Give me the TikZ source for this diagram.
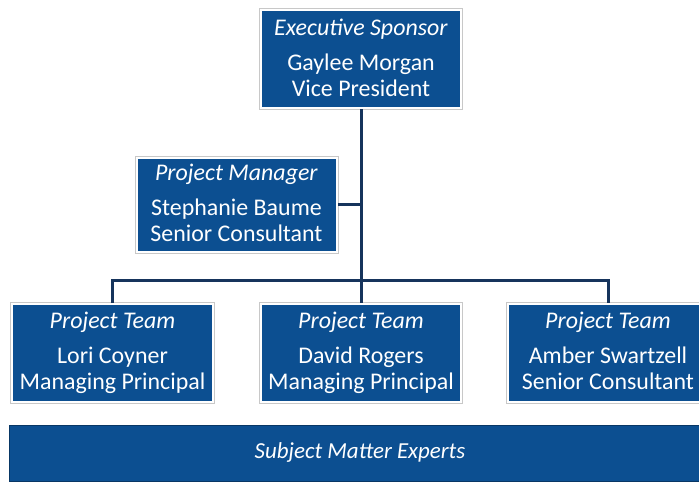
\documentclass[tikz,border=0pt]{standalone}
\usepackage{fontspec}
\setmainfont{Carlito}
\definecolor{boxblue}{RGB}{12,79,145}
\definecolor{linenavy}{RGB}{22,52,92}
\definecolor{rimgray}{RGB}{200,200,200}
\begin{document}
\begin{tikzpicture}[
    x=1bp, y=-1bp,
    font=\fontsize{24}{26}\selectfont,
    box/.style={fill=boxblue, draw=white, line width=2bp, text=white,
                minimum width=200bp, minimum height=98bp, inner sep=0pt,
                align=center,
                preaction={draw=rimgray, line width=4bp}},
    link/.style={draw=linenavy, line width=3bp},
]
\clip (0,0) rectangle (699,483);
\fill[white] (0,0) rectangle (699,483);

% sponsor and manager
\node[box] (exec) at (361,59.5)
    {\textit{Executive Sponsor}\\[9bp]Gaylee Morgan\\Vice President\vphantom{g}};
\node[box, minimum height=93bp] (pm) at (236.5,205)
    {\textit{Project Manager}\\[9bp]Stephanie Baume\\Senior Consultant\vphantom{g}};

% project team
\node[box] (lori)  at (112.5,353) {\textit{Project Team}\\[9bp]Lori Coyner\\Managing Principal};
\node[box] (david) at (361,353)   {\textit{Project Team}\\[9bp]David Rogers\\Managing Principal};
\node[box] (amber) at (608,353)   {\textit{Project Team}\\[9bp]Amber Swartzell\\Senior Consultant\vphantom{g}};

% experts bar along the bottom
\node[fill=boxblue, draw=boxblue!70!black, line width=1bp, text=white,
      minimum width=700bp, minimum height=56bp, inner sep=0pt,
      font=\fontsize{23}{26}\selectfont\itshape] (sme) at (360,453)
    {Subject Matter Experts};

\coordinate (bus) at (361,280);

\draw[link] (exec.south) -- (david.north);
\draw[link] (exec.south) |- (pm.east);
\draw[link] (lori.north) |- (bus) -| (amber.north);
\end{tikzpicture}
\end{document}
